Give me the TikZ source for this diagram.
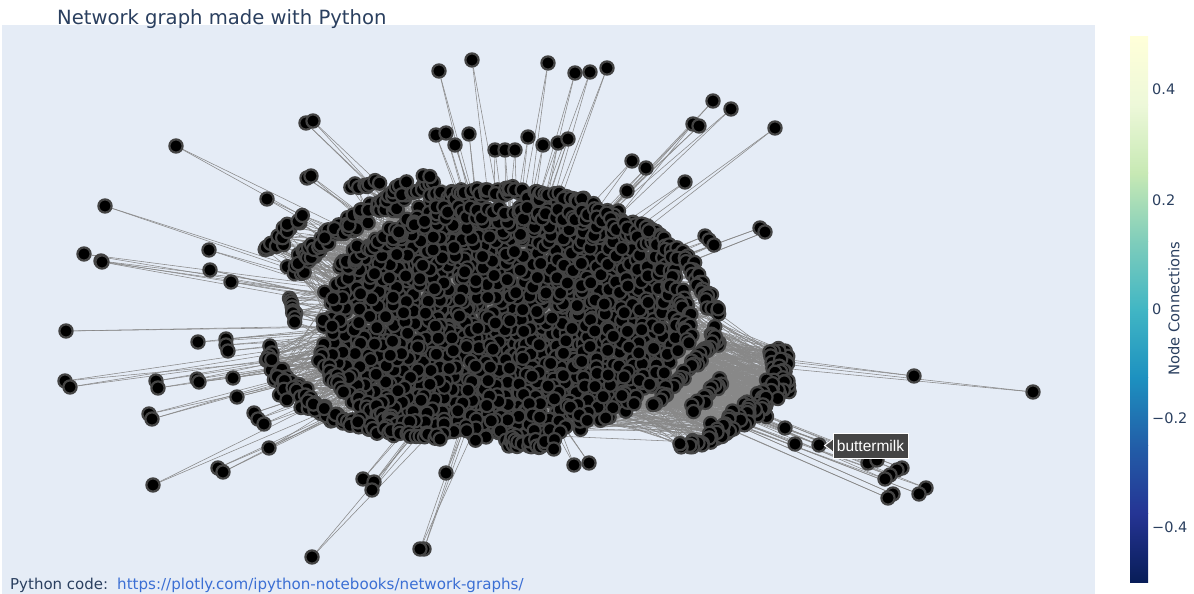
\documentclass[tikz,border=0pt]{standalone}
\usepackage{fontspec}
\setmainfont{DejaVu Sans}
\newfontfamily\tagfont{Liberation Sans}
\usetikzlibrary{calc}
\pgfdeclarelayer{edges}
\pgfsetlayers{edges,main}
\definecolor{plotbg}{HTML}{E5ECF6}
\definecolor{inktext}{HTML}{2A3F5F}
\definecolor{linktext}{HTML}{3B6FD4}
\definecolor{rimgray}{HTML}{444444}
\definecolor{edgegray}{HTML}{888888}
\definecolor{ygb0}{RGB}{8,29,88}
\definecolor{ygb1}{RGB}{37,52,148}
\definecolor{ygb2}{RGB}{34,94,168}
\definecolor{ygb3}{RGB}{29,145,192}
\definecolor{ygb4}{RGB}{65,182,196}
\definecolor{ygb5}{RGB}{127,205,187}
\definecolor{ygb6}{RGB}{199,233,180}
\definecolor{ygb7}{RGB}{237,248,217}
\definecolor{ygb8}{RGB}{255,255,217}
\tikzset{
  netnode/.style={circle,draw=rimgray,fill=black,line width=2.2pt,minimum size=13.2pt,inner sep=0pt},
  edgeline/.style={draw=edgegray,line width=.55pt},
  ticklabel/.style={text=inktext,font=\fontsize{14.5}{14.5}\selectfont,anchor=base west,inner sep=0pt}
}
% the curved bands round the core: start, end, count, spread, links per node
\newcommand{\bandlist}{
  264/255/290/228/16/5/2, 296/222/302/218/3/3/2,
  294/268/340/226/42/9/3, 340/226/400/198/42/9/3,
  350/187/378/183/8/3/2, 388/195/432/180/18/6/2,
  425/197/500/191/34/5/1, 500/191/580/201/36/6/1, 580/201/650/232/34/6/1,
  420/212/600/214/44/6/1, 600/214/660/248/20/6/1, 650/245/685/300/20/6/1, 685/300/690/345/12/5/2,
  336/268/420/218/40/7/1, 318/352/345/395/16/5/1, 345/395/405/426/22/5/1,
  636/222/656/232/4/1/2, 650/232/690/265/24/6/3, 690/268/716/312/26/5/3,
  714/325/718/345/7/4/3, 717/337/690/367/20/4/4, 690/367/655/405/16/4/4,
  723/377/693/409/16/4/4,
  778/355/780/385/30/10/5, 780/385/752/412/50/11/5,
  752/412/715/435/40/9/4, 715/435/682/447/16/5/2,
  292/298/293/320/10/3/3, 266/350/286/386/24/7/3,
  286/386/330/416/30/8/3, 330/416/390/431/24/5/3, 390/431/442/437/14/3/3,
  500/442/552/444/22/5/2}
% the loose nodes outside
\newcommand{\looselist}{
  439/71, 472/60, 548/63, 575/73, 590/72, 607/68, 713/101, 731/109, 775/128,
  693/124, 699/126, 306/123, 313/121, 176/146, 436/135, 446/133, 469/134,
  455/145, 495/150, 505/150, 515/150, 528/137, 543/145, 558/143, 568/139,
  632/161, 646/168, 685/182, 627/191, 307/178, 311/176, 267/199, 105/206,
  209/250, 84/254, 101/261, 102/262, 210/270, 231/282, 66/331, 198/342,
  226/339, 226/345, 228/351, 65/381, 70/387, 156/381, 158/388, 197/379,
  199/382, 233/378, 237/397, 149/414, 152/419, 254/413, 258/419, 264/424,
  269/448, 218/468, 223/472, 153/485, 363/479, 374/482, 372/490, 446/473,
  312/557, 424/549, 420/549, 574/465, 589/463, 914/376, 1033/392, 785/428,
  795/444, 819/445, 760/228, 765/232, 705/236, 709/240, 714/245, 868/463,
  877/460, 902/468, 897/470, 890/475, 885/479, 926/488, 919/494, 893/494, 888/498}
\begin{document}
\begin{tikzpicture}[x=1pt,y=-1pt]
\useasboundingbox (0,0) rectangle (1194,594);
\pgfmathsetseed{1234}
\coordinate (hub) at (505,325);

% the dense core
\foreach \i in {1,...,1201}{
  \pgfmathsetmacro{\k}{int(mod(\i*12,1201))}
  \pgfmathsetmacro{\rr}{sqrt((\k+.5)/1201)}
  \pgfmathsetmacro{\th}{360*frac(\k*0.618034)}
  \pgfmathsetmacro{\px}{504+182*\rr*cos(\th)+4.5*rand}
  \pgfmathsetmacro{\py}{325+114*\rr*sin(\th)+4.5*rand}
  \node[netnode] (core\i) at (\px,\py) {};
}
\foreach \ax/\ay/\bx/\by/\num/\wd/\ne in \bandlist{
  \foreach \j in {1,...,\num}{
    \pgfmathsetmacro{\tt}{\j/\num}
    \pgfmathsetmacro{\px}{\ax+(\bx-\ax)*\tt+\wd*rand}
    \pgfmathsetmacro{\py}{\ay+(\by-\ay)*\tt+\wd*rand}
    \node[netnode] (band-\ax-\ay-\j) at (\px,\py) {};
  }
}
\foreach \ox/\oy [count=\i] in \looselist{
  \node[netnode] (out\i) at (\ox,\oy) {};
}

% define the links
\begin{pgfonlayer}{edges}
  \fill[plotbg] (2,25) rectangle (1095,594);
  \foreach \i in {1,...,80}{
    \pgfmathsetmacro{\t}{int(1+rnd*1200)}
    \draw[edgeline] (core\i) -- (core\t);
  }
  \foreach \ax/\ay/\bx/\by/\num/\wd/\ne in \bandlist{
    \foreach \j in {1,...,\num}{
      \foreach \e in {1,...,\ne}{
        \pgfmathsetmacro{\t}{int(1+rnd*1200)}
        \draw[edgeline] (band-\ax-\ay-\j) -- (core\t);
      }
    }
  }
  \foreach \ox/\oy [count=\i] in \looselist{
    \pgfmathsetmacro{\ra}{14*rand}
    \pgfmathsetmacro{\rb}{14*rand}
    \coordinate (enda\i) at ($(out\i)!.8!(hub)+(\ra,\rb)$);
    \coordinate (endb\i) at ($(out\i)!.8!(hub)+(\rb,-\ra)$);
    \draw[edgeline] (out\i) -- (enda\i);
    \draw[edgeline] (out\i) -- (endb\i);
  }
\end{pgfonlayer}

% hover label
\node[draw=white,fill=rimgray,line width=1pt,text=white,inner sep=0pt,
  minimum width=75pt,minimum height=25pt,font=\tagfont\fontsize{15.5}{15.5}\selectfont] (tag) at (870.5,445.5) {buttermilk};
\coordinate (tagtip) at ($(tag.west)+(-8,0)$);
\filldraw[draw=white,fill=rimgray,line width=1pt] ($(tag.west)+(0,-6)$) -- (tagtip) -- ($(tag.west)+(0,6)$);
\fill[rimgray] ($(tag.west)+(-.5,-5.5)$) rectangle ($(tag.west)+(.6,5.5)$);

% titles
\node[anchor=base west,inner sep=0pt,text=inktext,font=\fontsize{19.6}{20}\selectfont] (title) at (57,25) {Network graph made with Python};
\node[anchor=base west,inner sep=0pt,text=inktext,font=\fontsize{15}{15}\selectfont] (pycode) at (10,589) {Python code:};
\node[anchor=base west,inner sep=0pt,text=linktext,font=\fontsize{15.1}{15}\selectfont] (pylink) at (117,589) {https://plotly.com/ipython-notebooks/network-graphs/};

% colour bar
\foreach \ca/\cb [count=\s from 0] in {ygb0/ygb1,ygb1/ygb2,ygb2/ygb3,ygb3/ygb4,ygb4/ygb5,ygb5/ygb6,ygb6/ygb7,ygb7/ygb8}{
  \pgfmathsetmacro{\ya}{582-68.125*\s}
  \pgfmathsetmacro{\yb}{\ya-68.125-.3}
  \shade[bottom color=\ca,top color=\cb] (1130,\ya) rectangle (1148,\yb);
}
\foreach \lab/\y in {0.4/90,0.2/200,0/309,−0.2/418,−0.4/527}{
  \node[ticklabel] at (1152,\y+5) {\lab};
}
\node[rotate=90,text=inktext,font=\fontsize{14.7}{14.7}\selectfont,inner sep=0pt] (cbtitle) at (1174,308.5) {Node Connections};
\end{tikzpicture}
\end{document}
